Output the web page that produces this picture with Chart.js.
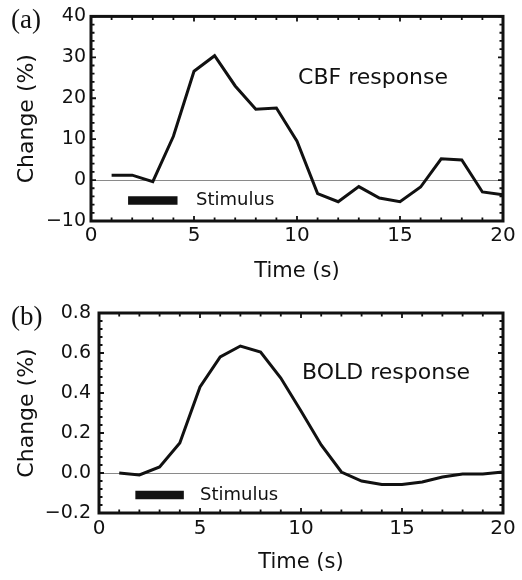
<!DOCTYPE html>
<html>
<head>
<meta charset="utf-8">
<script src="https://cdn.jsdelivr.net/npm/chart.js@4.4.1/dist/chart.umd.min.js"></script>
<style>
  body { margin: 0; background: #fff; }
  canvas { display: block; }
</style>
</head>
<body>
<canvas id="cbfchart" width="522" height="290"></canvas>
<canvas id="boldchart" width="522" height="290"></canvas>
<script>
// Data block
const timeSeconds = [1, 2, 3, 4, 5, 6, 7, 8, 9, 10, 11, 12, 13, 14, 15, 16, 17, 18, 19, 20];
const cbfChange = [1.2, 1.2, -0.4, 10.7, 26.6, 30.4, 23.0, 17.3, 17.6, 9.5, -3.3, -5.3, -1.6, -4.4, -5.3, -1.7, 5.2, 4.9, -2.9, -3.6];
const boldChange = [0.0, -0.01, 0.03, 0.15, 0.43, 0.58, 0.635, 0.605, 0.475, 0.31, 0.14, 0.005, -0.04, -0.058, -0.058, -0.045, -0.02, -0.005, -0.005, 0.005];
const stimulusTime = [1.8, 4.2];
const cbfStimulusLevel = -5.0;
const boldStimulusLevel = -0.11;

const ink = '#111111';
const sans = 'DejaVu Sans';

// Frame + inward minor ticks + labels plugin
const framePlugin = {
    id: 'frame',
    afterDraw(chart, args, opts) {
        const ctx = chart.ctx;
        const area = chart.chartArea;
        const xs = chart.scales.x;
        const ys = chart.scales.y;
        ctx.save();
        ctx.strokeStyle = ink;
        ctx.lineWidth = 1.8;
        // x minor ticks (every 1 s), top and bottom
        for (let v = xs.min; v <= xs.max + 1e-9; v += 1) {
            const px = xs.getPixelForValue(v);
            const len = (v % 5 === 0) ? 5 : 3.5;
            ctx.beginPath();
            ctx.moveTo(px, area.bottom); ctx.lineTo(px, area.bottom - len);
            ctx.moveTo(px, area.top); ctx.lineTo(px, area.top + len);
            ctx.stroke();
        }
        // y minor ticks, left and right
        const n = Math.round((ys.max - ys.min) / opts.yMinor);
        for (let i = 0; i <= n; i++) {
            const v = ys.min + i * opts.yMinor;
            const py = ys.getPixelForValue(v);
            const len = (i % 5 === 0) ? 5 : 3.5;
            ctx.beginPath();
            ctx.moveTo(area.left, py); ctx.lineTo(area.left + len, py);
            ctx.moveTo(area.right, py); ctx.lineTo(area.right - len, py);
            ctx.stroke();
        }
        // frame
        ctx.lineWidth = 3;
        ctx.strokeRect(area.left, area.top, area.right - area.left, area.bottom - area.top);

        // texts
        ctx.fillStyle = ink;
        ctx.textAlign = 'left';
        ctx.textBaseline = 'middle';
        ctx.font = '22px "' + sans + '"';
        ctx.fillText(opts.title, xs.getPixelForValue(opts.titleAt[0]), ys.getPixelForValue(opts.titleAt[1]));
        ctx.font = '18px "' + sans + '"';
        ctx.fillText('Stimulus', xs.getPixelForValue(opts.stimTextX), ys.getPixelForValue(opts.stimLevel));
        ctx.textBaseline = 'alphabetic';
        ctx.font = '27px "Liberation Serif"';
        ctx.fillText(opts.panel, 11, opts.panelY);
        ctx.restore();
    }
};

function minusFmt(decimals) {
    return function (value) {
        const s = Math.abs(value).toFixed(decimals);
        return value < 0 ? '\u2212' + s : s;
    };
}

function makeChart(canvasId, values, o) {
    const config = {
        type: 'line',
        data: {
            datasets: [{
                data: timeSeconds.map((t, i) => ({x: t, y: values[i]})),
                borderColor: ink,
                borderWidth: 3,
                pointRadius: 0,
                tension: 0,
                borderJoinStyle: 'miter'
            }, {
                data: stimulusTime.map(t => ({x: t, y: o.stimLevel})),
                borderColor: ink,
                borderWidth: 8.5,
                borderCapStyle: 'butt',
                pointRadius: 0
            }]
        },
        options: {
            responsive: false,
            animation: false,
            events: [],
            layout: { padding: { top: o.top, right: 19, left: 0, bottom: 0 } },
            plugins: {
                legend: { display: false },
                tooltip: { enabled: false },
                frame: o
            },
            scales: {
                x: {
                    type: 'linear',
                    min: 0, max: 20,
                    border: { display: false },
                    grid: { display: false, drawTicks: false },
                    ticks: { stepSize: 5, padding: o.xPad, color: ink, font: { family: sans, size: 20 } },
                    title: { display: true, text: 'Time (s)', color: ink, padding: { top: 0, bottom: o.xTitlePad }, font: { family: sans, size: 21 } },
                    afterFit(scale) { scale.height = o.xHeight; }
                },
                y: {
                    type: 'linear',
                    min: o.yMin, max: o.yMax,
                    border: { display: false },
                    grid: {
                        drawTicks: false,
                        lineWidth: 1,
                        color: ctx => (ctx.tick && ctx.tick.value === 0) ? '#8a8a8a' : 'rgba(0,0,0,0)'
                    },
                    ticks: { stepSize: o.yStep, padding: o.yPad, color: ink, font: { family: sans, size: 19 }, callback: minusFmt(o.decimals) },
                    title: { display: true, text: 'Change (%)', color: ink, padding: { top: 14, bottom: 0 }, font: { family: sans, size: 22 } },
                    afterFit(scale) { scale.width = o.yWidth; }
                }
            }
        },
        plugins: [framePlugin]
    };
    return new Chart(document.getElementById(canvasId), config);
}

// render block
const cbfChart = makeChart('cbfchart', cbfChange, {
    top: 15, yWidth: 91, xHeight: 69, yMin: -10, yMax: 40, yStep: 10, yMinor: 2, decimals: 0,
    yPad: 5, xPad: 3, xTitlePad: 6,
    stimLevel: cbfStimulusLevel, stimTextX: 5.1,
    title: 'CBF response', titleAt: [10.05, 24.8],
    panel: '(a)', panelY: 28
});

const boldChart = makeChart('boldchart', boldChange, {
    top: 23, yWidth: 99, xHeight: 67, yMin: -0.2, yMax: 0.8, yStep: 0.2, yMinor: 0.04, decimals: 1,
    yPad: 8, xPad: 4, xTitlePad: 5,
    stimLevel: boldStimulusLevel, stimTextX: 5.0,
    title: 'BOLD response', titleAt: [10.05, 0.5],
    panel: '(b)', panelY: 35
});
</script>
</body>
</html>
